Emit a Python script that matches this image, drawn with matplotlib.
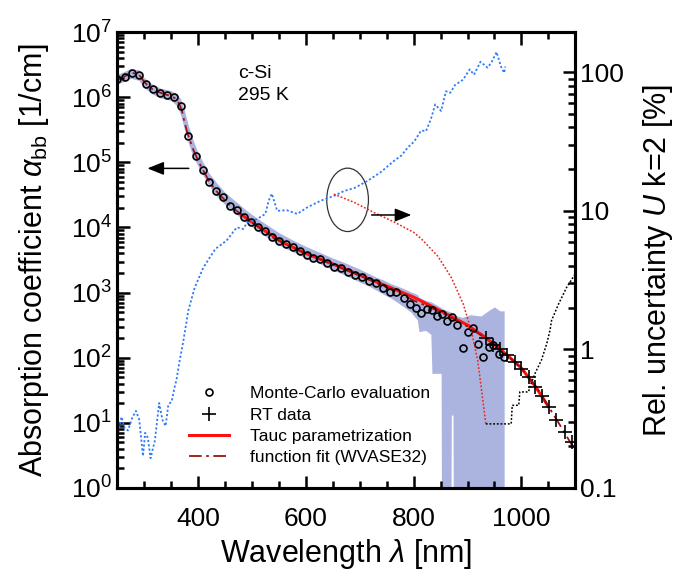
import numpy as np
import matplotlib
matplotlib.use('Agg')
import matplotlib.pyplot as plt
from matplotlib.patches import Ellipse
from matplotlib.ticker import MultipleLocator, LogLocator, NullFormatter, FixedLocator, FixedFormatter

plt.rcParams['font.family'] = ['Liberation Sans', 'DejaVu Sans']
plt.rcParams['mathtext.fontset'] = 'custom'
plt.rcParams['mathtext.rm'] = 'Liberation Sans'
plt.rcParams['mathtext.it'] = 'Liberation Sans:italic'

# Monte-Carlo evaluation (wavelength nm, log10 alpha)
mc_wl = [249, 265, 277, 290, 304, 317, 330, 343, 355, 368, 382, 396, 409, 421, 434, 447,
         460, 472, 486, 499, 512, 524, 537, 550, 563, 576, 589, 602, 614, 627, 640, 653,
         666, 679, 692, 705, 717, 730, 744, 756, 768, 782, 794, 804, 814, 824, 834, 843,
         852, 862, 872, 881, 891, 901, 910, 920, 929, 939, 948, 958, 968]
mc_log = [6.28, 6.31, 6.37, 6.34, 6.20, 6.12, 6.07, 6.03, 6.01, 5.86, 5.41, 5.09, 4.88, 4.70, 4.56, 4.46,
          4.33, 4.27, 4.16, 4.09, 4.01, 3.94, 3.85, 3.79, 3.74, 3.70, 3.64, 3.57, 3.53, 3.51, 3.46, 3.39,
          3.38, 3.31, 3.27, 3.24, 3.18, 3.14, 3.07, 3.01, 3.01, 2.92, 2.83, 2.77, 2.69, 2.75, 2.73, 2.64,
          2.67, 2.56, 2.63, 2.50, 2.15, 2.40, 2.46, 2.21, 2.01, 2.17, 2.20, 2.05, 2.01]

# uncertainty band of the Monte-Carlo evaluation (log10 alpha, lower / upper edge)
band_wl = [250, 262, 275, 290, 300, 315, 330, 350, 362, 368, 375, 382, 390, 400, 410, 420,
           435, 450, 470, 490, 510, 530, 550, 575, 600, 625, 650, 675, 700, 715, 730, 745,
           757, 770, 782, 795, 807, 810, 822, 832, 834, 851, 852, 869, 870, 873, 874, 890,
           905, 925, 940, 950, 960, 968]
band_lo = [6.20, 6.24, 6.29, 6.26, 6.15, 6.05, 5.99, 5.95, 5.86, 5.72, 5.50, 5.30, 5.11, 4.94, 4.79, 4.65,
           4.48, 4.35, 4.21, 4.07, 3.95, 3.84, 3.73, 3.63, 3.53, 3.45, 3.35, 3.26, 3.16, 3.11, 3.04, 2.97,
           2.92, 2.85, 2.78, 2.70, 2.58, 2.40, 2.42, 2.36, 1.76, 1.76, -1, -1, 1.12, 1.12, -1, -1,
           -1, -1, -1, -1, -1, -1]
band_hi = [6.35, 6.39, 6.44, 6.42, 6.30, 6.20, 6.14, 6.10, 6.04, 5.97, 5.79, 5.57, 5.36, 5.15, 4.99, 4.84,
           4.68, 4.54, 4.40, 4.26, 4.14, 4.03, 3.92, 3.81, 3.71, 3.62, 3.53, 3.45, 3.36, 3.30, 3.24, 3.19,
           3.14, 3.10, 3.06, 3.01, 2.97, 2.93, 2.88, 2.86, 2.85, 2.77, 2.76, 2.70, 2.70, 2.67, 2.66, 2.62,
           2.66, 2.64, 2.73, 2.78, 2.72, 2.72]

# RT data
rt_wl = [935, 948, 960, 974, 988, 999, 1015, 1026, 1039, 1051, 1065, 1081, 1093]
rt_log = [2.30, 2.195, 2.13, 2.04, 1.93, 1.83, 1.71, 1.555, 1.41, 1.24, 1.04, 0.86, 0.70]

# Tauc parametrization
tauc_wl = [480, 520, 560, 600, 650, 700, 750, 800, 850, 900, 930, 950, 975, 1000, 1025, 1050]
tauc_log = [4.20, 3.97, 3.76, 3.60, 3.44, 3.27, 3.10, 2.93, 2.72, 2.50, 2.33, 2.20, 2.03, 1.84, 1.57, 1.25]

# function fit (WVASE32)
fit_wl = [250, 260, 270, 280, 290, 300, 310, 320, 330, 340, 350, 360, 365, 370, 375, 380, 390, 400,
          410, 420, 430, 440, 450, 460, 480, 500, 520, 540, 560, 580, 600, 650, 700, 750, 800, 850,
          900, 950, 1000, 1030, 1060, 1080, 1100]
fit_log = [6.26, 6.30, 6.35, 6.37, 6.35, 6.24, 6.15, 6.10, 6.07, 6.04, 6.02, 5.97, 5.90, 5.80, 5.62, 5.46, 5.22, 5.03,
           4.87, 4.72, 4.60, 4.50, 4.42, 4.33, 4.20, 4.08, 3.96, 3.84, 3.75, 3.68, 3.60, 3.43, 3.26, 3.08, 2.88, 2.70,
           2.48, 2.21, 1.84, 1.52, 1.12, 0.85, 0.57]

# relative uncertainty U (k=2) in %, right axis
unc_wl = [251, 258, 264, 270, 278, 285, 291, 298, 302, 307, 312, 320, 328, 334, 340, 345, 351, 357,
          360, 366, 373, 382, 394, 410, 432, 453, 472, 484, 491, 509, 525, 531, 537, 547, 565, 584,
          603, 627, 652, 671, 690, 714, 739, 764, 777, 789, 801, 814, 823, 832, 840, 851, 860, 868,
          877, 892, 904, 912, 924, 937, 944, 954, 962, 968, 970]
unc_val = [0.234, 0.326, 0.27, 0.26, 0.32, 0.36, 0.31, 0.17, 0.25, 0.23, 0.164, 0.22, 0.41, 0.31, 0.28, 0.40, 0.42, 0.54,
           0.6, 0.83, 1.16, 1.9, 2.8, 3.9, 5.3, 6.1, 7.6, 7.4, 8.2, 8.7, 9.5, 11.8, 13.3, 10.0, 10.1, 9.5,
           10.6, 11.8, 12.8, 13.9, 14.6, 16.4, 19.0, 23.0, 25.0, 28.6, 31.6, 38.0, 37.6, 45.8, 58.6, 52.6, 73.0, 71.0,
           81.0, 88.5, 105.0, 96.0, 119.0, 108.0, 117.0, 140.0, 110.0, 99.0, 110.0]

# uncertainty of the Tauc parametrization (red dotted) and of RT data (black dotted)
tunc_wl = [652, 690, 727, 764, 800, 814, 845, 870, 892, 907, 919, 926, 934]
tunc_val = [13.2, 11.5, 9.7, 8.3, 7.0, 6.3, 4.7, 3.3, 2.13, 1.37, 0.83, 0.51, 0.29]
rtunc_wl = [934, 981, 983, 995, 997, 1003, 1013, 1018, 1025, 1037, 1047, 1053, 1056, 1069, 1084, 1100]
rtunc_val = [0.29, 0.29, 0.395, 0.395, 0.493, 0.493, 0.493, 0.566, 0.668, 0.834, 1.10, 1.37, 1.62, 2.13, 2.81, 3.51]

fig = plt.figure(figsize=(6.89, 5.83), dpi=100)
ax = fig.add_axes([0.170, 0.163, 0.665, 0.782])
ax2 = ax.twinx()

ax.fill_between(band_wl, 10 ** np.array(band_lo), 10 ** np.array(band_hi),
                color='#abb4df', lw=0, zorder=1)
ax.plot(fit_wl, 10 ** np.array(fit_log), color='#a31010', lw=1.3, ls=(0, (7, 2.5, 1.5, 2.5)),
        zorder=3, label='function fit (WVASE32)')
ax.plot(tauc_wl, 10 ** np.array(tauc_log), color='#ff1010', lw=2.2, zorder=2, label='Tauc parametrization')
ax.plot(mc_wl, 10 ** np.array(mc_log), 'o', mfc='none', mec='black', ms=5, mew=1.2, zorder=5,
        label='Monte-Carlo evaluation')
ax.plot(rt_wl, 10 ** np.array(rt_log), '+', color='black', ms=10, mew=1.2, zorder=6, label='RT data')

ax2.plot(unc_wl, unc_val, color='#2f7cf6', lw=1.3, ls=(0, (1.2, 1.2)))
ax2.plot(tunc_wl, tunc_val, color='#e8281e', lw=1.1, ls=(0, (1.2, 1.2)))
ax2.plot(rtunc_wl, rtunc_val, color='black', lw=1.1, ls=(0, (1.2, 1.2)))

ax.set_xlim(250, 1100)
ax.set_yscale('log')
ax.set_ylim(1, 1e7)
ax2.set_yscale('log')
ax2.set_ylim(0.1, 195)

ax.xaxis.set_major_locator(MultipleLocator(200))
ax.xaxis.set_minor_locator(MultipleLocator(50))
ax.yaxis.set_major_locator(LogLocator(base=10, numticks=10))
ax.yaxis.set_minor_locator(LogLocator(base=10, subs=np.arange(2, 10), numticks=20))
ax.yaxis.set_minor_formatter(NullFormatter())
ax2.yaxis.set_major_locator(FixedLocator([0.1, 1, 10, 100]))
ax2.yaxis.set_major_formatter(FixedFormatter(['0.1', '1', '10', '100']))
ax2.yaxis.set_minor_locator(LogLocator(base=10, subs=np.arange(2, 10), numticks=20))
ax2.yaxis.set_minor_formatter(NullFormatter())

ax.tick_params(which='both', direction='in', top=True, right=False, width=1.8, labelsize=19)
ax.tick_params(which='major', length=9)
ax.tick_params(which='minor', length=5)
ax.tick_params(axis='x', pad=14)
ax2.tick_params(which='both', direction='in', width=1.8, labelsize=19)
ax2.tick_params(which='major', length=9)
ax2.tick_params(which='minor', length=5)
for a in (ax, ax2):
    for s in a.spines.values():
        s.set_linewidth(2.2)

ax.set_xlabel(r'Wavelength $\it{\lambda}$ [nm]', fontsize=22, labelpad=4)
ax.set_ylabel(r'Absorption coefficient $\it{\alpha}_{\rm bb}$ [1/cm]', fontsize=22, labelpad=14)
ax2.set_ylabel(r'Rel. uncertainty $\it{U}$ k=2 [%]', fontsize=22, labelpad=12)

ax.text(0.264, 0.91, 'c-Si', transform=ax.transAxes, fontsize=14, va='center')
ax.text(0.264, 0.86, '295 K', transform=ax.transAxes, fontsize=14, va='center')

ax2.add_patch(Ellipse((0.503, 0.632), 0.091, 0.139, transform=ax2.transAxes, fill=False,
                      ec='#333333', lw=0.9))
ax.annotate('', xy=(301, 10 ** 4.907), xytext=(388, 10 ** 4.907),
            arrowprops=dict(arrowstyle='-|>,head_length=0.5,head_width=0.2', color='black', lw=1.1,
                            mutation_scale=20))
ax2.annotate('', xy=(801, 10 ** 0.97), xytext=(717, 10 ** 0.97),
             arrowprops=dict(arrowstyle='-|>,head_length=0.5,head_width=0.2', color='black', lw=1.1,
                             mutation_scale=20))

h, l = ax.get_legend_handles_labels()
order = [2, 3, 1, 0]
ax.legend([h[i] for i in order], [l[i] for i in order], loc='lower left',
          bbox_to_anchor=(0.157, 0.05), frameon=False, fontsize=12.5, borderpad=0,
          borderaxespad=0, handlelength=2.3, handletextpad=1.2, labelspacing=0.35)

fig.savefig('out.png', dpi=100)
